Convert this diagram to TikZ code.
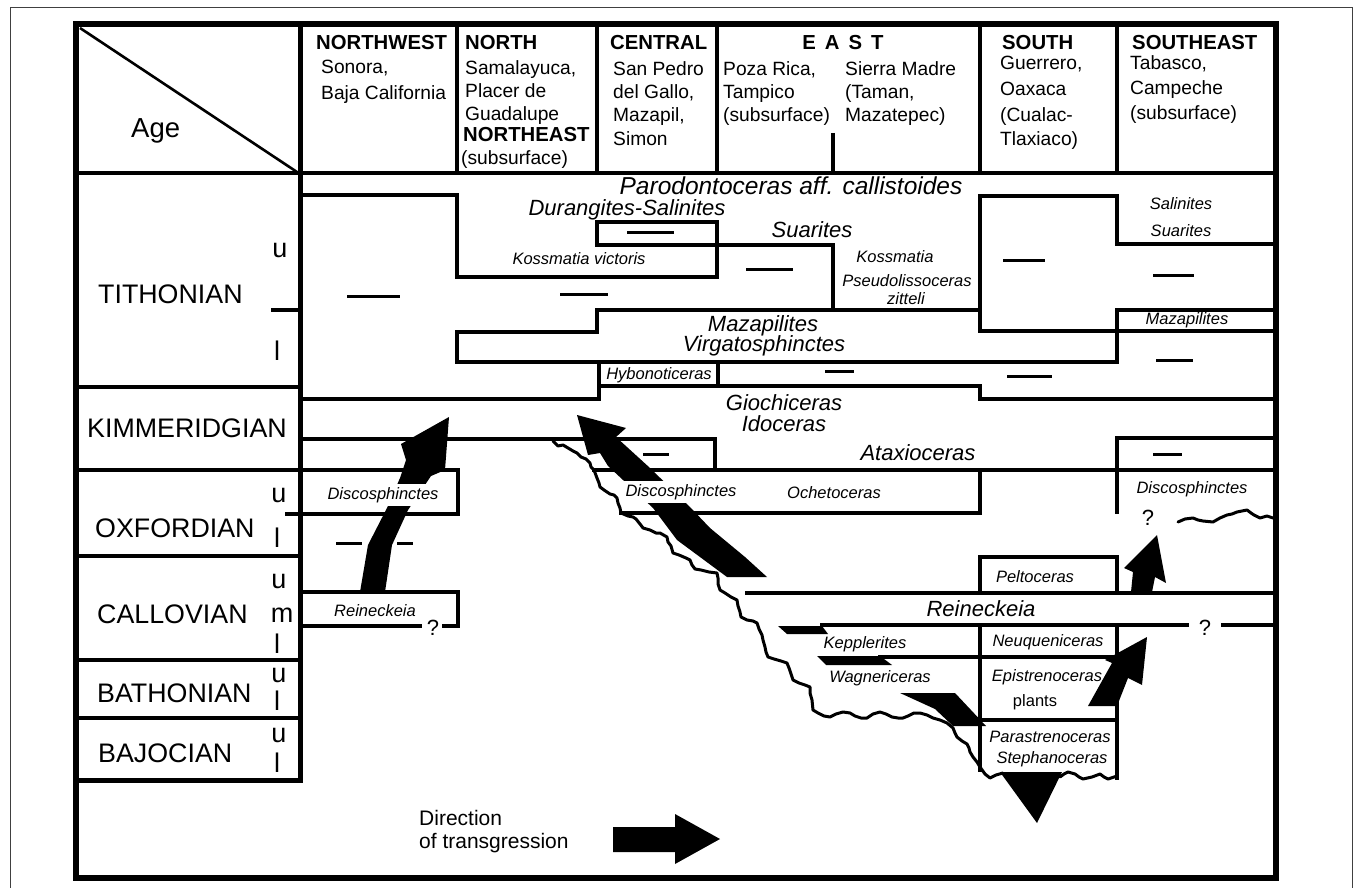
\documentclass[tikz,border=0pt]{standalone}
\usepackage{fontspec}
\setmainfont{Liberation Sans}
\newcommand{\fsz}[1]{\fontsize{#1}{#1}\selectfont}
\begin{document}
\begin{tikzpicture}[x=1pt,y=-1pt,
  frame/.style={line width=6pt},
  ln/.style={line width=3.4pt, line cap=rect, line join=miter},
  stg/.style={line width=3.2pt},
  dsh/.style={line width=3pt},
  wav/.style={line width=3pt, line join=round, line cap=round},
  blk/.style={fill=black, draw=none},
  hb/.style={font=\fsz{20.3}\bfseries, anchor=base west, inner sep=0pt},
  hr/.style={font=\fsz{19.2}, anchor=base west, inner sep=0pt},
  stage/.style={font=\fsz{26.8}, anchor=base west, inner sep=0pt},
  sub/.style={font=\fsz{27}, anchor=base, inner sep=0pt},
  bi/.style={font=\fsz{22}\itshape, inner sep=0pt},
  si/.style={font=\fsz{16.5}\itshape, inner sep=1pt},
  qm/.style={font=\fsz{22}, inner sep=0pt},
  wb/.style={fill=white, inner sep=3pt}]
\useasboundingbox (0,0) rectangle (1353,888);
\fill[white] (0,0) rectangle (1353,888);
% outer thin frame
\draw[line width=1pt, black!75] (10,892) -- (10,8) -- (1352.3,8) -- (1352.3,892);

% ---------- header ----------
\draw[line width=2.6pt] (80,28) -- (297,172);
\foreach \x in {457,597,717,980,1117} \draw[line width=3.4pt] (\x,24) -- (\x,173);
\draw[line width=3.4pt] (833,133) -- (833,173);
\draw[line width=4.6pt] (76,173) -- (1276,173);

\node[font=\fsz{27.5}, anchor=base west, inner sep=0pt] (age) at (131,138) {Age};

\node[hb] (hnw) at (316,50) {NORTHWEST};
\node[hr] (nw1) at (321,74) {Sonora,};
\node[hr] (nw2) at (321,100) {Baja California};

\node[hb] (hn) at (465,50) {NORTH};
\node[hr] (n1) at (465,75) {Samalayuca,};
\node[hr] (n2) at (465,98) {Placer de};
\node[hr] (n3) at (465,121) {Guadalupe};
\node[hb] (hne) at (463,142) {NORTHEAST};
\node[hr] (n4) at (461,165) {(subsurface)};

\node[hb] (hc) at (610,50) {CENTRAL};
\node[hr] (c1) at (613,76) {San Pedro};
\node[hr] (c2) at (613,99) {del Gallo,};
\node[hr] (c3) at (613,122) {Mazapil,};
\node[hr] (c4) at (613,146) {Simon};

\node[font=\fsz{20.3}\bfseries, anchor=base, inner sep=0pt] (he) at (843,50) {E\hspace{9pt}A\hspace{9pt}S\hspace{9pt}T};
\node[hr] (e1) at (723,76) {Poza Rica,};
\node[hr] (e2) at (723,99) {Tampico};
\node[hr] (e3) at (723,122) {(subsurface)};
\node[hr] (e4) at (845,76) {Sierra Madre};
\node[hr] (e5) at (845,99) {(Taman,};
\node[hr] (e6) at (845,122) {Mazatepec)};

\node[hb] (hs) at (1002,50) {SOUTH};
\node[hr] (s1) at (1000,70) {Guerrero,};
\node[hr] (s2) at (1000,96) {Oaxaca};
\node[hr] (s3) at (1000,122) {(Cualac-};
\node[hr] (s4) at (1000,146) {Tlaxiaco)};

\node[hb] (hse) at (1132,50) {SOUTHEAST};
\node[hr] (se1) at (1130,70) {Tabasco,};
\node[hr] (se2) at (1130,95) {Campeche};
\node[hr] (se3) at (1130,120) {(subsurface)};

% ---------- age column ----------
\draw[line width=5pt] (300,24) -- (300,780);
\draw[line width=5pt] (76,780) -- (302.5,780);
\foreach \y in {387,470,556,660,718} \draw[stg] (76,\y) -- (300,\y);
\draw[stg] (271,310) -- (300,310);

\node[stage] (tith) at (98,303) {TITHONIAN};
\node[stage] (kimm) at (87,437) {KIMMERIDGIAN};
\node[stage] (oxf) at (95,537) {OXFORDIAN};
\node[stage] (call) at (97,623) {CALLOVIAN};
\node[stage] (bath) at (97,702) {BATHONIAN};
\node[stage] (bajo) at (98,762) {BAJOCIAN};

\node[sub] (tu) at (280,257) {u};
\node[sub] (tl) at (277,360) {l};
\node[sub] (ou) at (279,502) {u};
\node[sub] (ol) at (277,547) {l};
\node[sub] (cu) at (279,588) {u};
\node[sub] (cm) at (282,622) {m};
\node[sub] (cl) at (277,653) {l};
\node[sub] (bu) at (279,682) {u};
\node[sub] (bl) at (277,710) {l};
\node[sub] (ju) at (279,742) {u};
\node[sub] (jl) at (277,772) {l};

% ---------- chart boundaries ----------
\draw[ln] (300,195) -- (457,195) -- (457,277) -- (717,277);
\draw[ln] (597,245) -- (597,222) -- (717,222) -- (717,277);
\draw[ln] (597,245) -- (833,245) -- (833,310);
\draw[ln] (457,362) -- (457,332) -- (597,332) -- (597,310) -- (980,310);
\draw[ln] (980,331) -- (980,196) -- (1117,196) -- (1117,244) -- (1273,244);
\draw[ln] (980,331) -- (1273,331);
\draw[ln] (1117,310) -- (1273,310);
\draw[ln] (1117,310) -- (1117,362);
\draw[ln] (457,362) -- (1117,362);
\draw[ln] (599,362) -- (599,399);
\draw[ln] (300,399) -- (599,399);
\draw[ln] (718,362) -- (718,386);
\draw[ln] (599,386) -- (980,386) -- (980,399) -- (1273,399);
% Kimmeridgian
\draw[ln] (300,439) -- (715,439) -- (715,470);
\draw[ln] (594,470) -- (1273,470);
\draw[ln] (1117,438) -- (1273,438);
\draw[ln] (1117,438) -- (1117,512);
% Oxfordian
\draw[ln] (300,470) -- (458,470) -- (458,514) -- (287,514);
\draw[ln] (980,470) -- (980,513) -- (621,513);
% Callovian
\draw[ln] (300,592) -- (458,592) -- (458,626) -- (444,626);
\draw[ln] (300,626) -- (420,626);
\draw[ln] (980,593) -- (980,557) -- (1117,557) -- (1117,593);
\draw[ln] (747,593) -- (1273,593);
\draw[ln] (822,625) -- (1187,625);
\draw[ln] (1223,625) -- (1273,625);
\draw[ln] (980,625) -- (980,770);
\draw[ln] (1117,625) -- (1117,778);
\draw[ln] (880,657) -- (1117,657);
\draw[ln] (980,720) -- (1117,720);

% dashes
\draw[dsh] (347,296) -- (400,296);
\draw[dsh] (560,294) -- (608,294);
\draw[dsh] (627,232) -- (674,232);
\draw[dsh] (746,269) -- (793,269);
\draw[dsh] (825,371) -- (854,371);
\draw[dsh] (1003,260) -- (1045,260);
\draw[dsh] (1153,275) -- (1194,275);
\draw[dsh] (1156,360) -- (1193,360);
\draw[dsh] (1007,376) -- (1052,376);
\draw[dsh] (1153,454) -- (1182,454);
\draw[dsh] (643,454) -- (669,454);
\draw[dsh] (336,543) -- (362,543);
\draw[dsh] (397,543) -- (413,543);

% wavy unconformity
\draw[wav] (553,441) -- (558,446) -- (563,445) -- (568,448) -- (573,451) -- (577,453) -- (581,457) -- (586,459) -- (590,463) -- (591,467) -- (594,470) -- (597,478) -- (599,483) -- (600,487) -- (604,490) -- (610,494) -- (614,495) -- (617,498) -- (618,503) -- (620,508) -- (621,513) -- (628,516) -- (633,517) -- (636,519) -- (640,524) -- (643,528) -- (650,530) -- (656,533) -- (660,533) -- (667,537) -- (668,542) -- (671,546) -- (673,553) -- (679,555) -- (686,558) -- (690,560) -- (692,565) -- (695,569) -- (701,570) -- (709,572) -- (717,573) -- (718,578) -- (718,584) -- (720,590) -- (725,593) -- (731,597) -- (737,600) -- (738,606) -- (740,612) -- (741,617) -- (747,620) -- (753,621) -- (757,623) -- (759,629) -- (762,635) -- (763,640) -- (765,647) -- (766,652) -- (768,657) -- (774,659) -- (781,661) -- (787,663) -- (789,668) -- (791,674) -- (793,680) -- (799,683) -- (805,685) -- (810,687) -- (810,693) -- (812,700) -- (813,710) -- (818,713) -- (824,716) -- (830,717) -- (836,714) -- (843,712) -- (850,713) -- (855,716) -- (861,718) -- (867,718) -- (873,714) -- (880,712) -- (886,714) -- (892,717) -- (898,718) -- (903,718) -- (908,716) -- (914,713) -- (920,713) -- (927,715) -- (933,718) -- (940,720) -- (947,723) -- (953,728) -- (955,733) -- (957,737) -- (962,741) -- (967,744) -- (969,748) -- (970,752) -- (973,757) -- (977,762) -- (980,767) -- (985,774) -- (990,778) -- (996,775) -- (1003,773);
\draw[wav] (1060,777) -- (1064,774) -- (1068,772) -- (1075,774) -- (1079,777) -- (1083,779) -- (1092,777) -- (1100,774) -- (1104,777) -- (1108,779) -- (1117,776);
\draw[wav] (1178,522) -- (1185,519) -- (1193,518) -- (1198,520) -- (1203,521) -- (1213,522) -- (1220,518) -- (1227,515) -- (1232,514) -- (1237,512) -- (1247,510) -- (1251,513) -- (1254,515) -- (1260,518) -- (1267,516) -- (1273,518);

% ---------- black arrows ----------
% NW arrow
\fill[blk] (449,417) -- (445,470) -- (431,476) -- (408,510) -- (392,545) -- (385,592) -- (360,592) -- (368,545) -- (387,508) -- (400,478) -- (406,460) -- (401,444) -- cycle;
% central arrow
\fill[blk] (577,415) -- (626,428) -- (616,437) -- (650,468) -- (690,507) -- (710,528) -- (745,557) -- (767,577) -- (727,577) -- (677,540) -- (653,508) -- (608,466) -- (600,453) -- (588,455) -- cycle;
% small parallelograms
\fill[blk] (778,626) -- (822,626) -- (828,634) -- (787,634) -- cycle;
\fill[blk] (817,656) -- (880,656) -- (892,665) -- (826,665) -- cycle;
\fill[blk] (900,693) -- (955,693) -- (986,726) -- (953,726) -- (935,709) -- cycle;
% bottom triangle
\fill[blk] (1000,772) -- (1062,772) -- (1037,823) -- cycle;
% SE arrows
\fill[blk] (1147,637) -- (1142,685) -- (1128,678) -- (1117,706) -- (1088,706) -- (1112,663) -- (1105,660) -- cycle;
\fill[blk] (1157,535) -- (1166,583) -- (1155,577) -- (1152,592) -- (1131,592) -- (1133,572) -- (1124,568) -- cycle;
% legend arrow
\fill[blk] (613,827) -- (675,827) -- (675,814) -- (720,839) -- (675,864) -- (675,852) -- (613,852) -- cycle;

% ---------- labels ----------
\node[font=\fsz{24.5}\itshape, inner sep=0pt] (parod) at (791,186) {Parodontoceras aff. callistoides};
\node[bi] (dura) at (627,210) {Durangites-Salinites};
\node[bi] (suar) at (812,230) {Suarites};
\node[bi] (maza) at (763,326) {Mazapilites};
\node[bi] (virg) at (764,346) {Virgatosphinctes};
\node[bi] (gioc) at (784,403) {Giochiceras};
\node[bi] (idoc) at (784,424) {Idoceras};
\node[bi] (atax) at (918,453) {Ataxioceras};
\node[bi] (rein) at (981,609) {Reineckeia};

\node[si] (kosv) at (579,259) {Kossmatia victoris};
\node[si] (koss) at (895,257) {Kossmatia};
\node[si] (pseu) at (907,281) {Pseudolissoceras};
\node[si] (zitt) at (906,299) {zitteli};
\node[si] (hybo) at (659,375) {Hybonoticeras};
\node[si] (sali) at (1181,204) {Salinites};
\node[si] (suse) at (1181,231) {Suarites};
\node[si] (mase) at (1187,320) {Mazapilites};
\node[si, wb] (disnw) at (383,495) {Discosphinctes};
\node[si] (reinw) at (375,611) {Reineckeia};
\node[si, wb] (disc) at (681,492) {Discosphinctes};
\node[si] (oche) at (834,493) {Ochetoceras};
\node[si] (disse) at (1192,489) {Discosphinctes};
\node[si] (pelt) at (1035,577) {Peltoceras};
\node[si] (kepp) at (865,644) {Kepplerites};
\node[si] (wagn) at (880,678) {Wagnericeras};
\node[si] (neuq) at (1048,642) {Neuqueniceras};
\node[si] (epis) at (1047,677) {Epistrenoceras};
\node[font=\fsz{16.5}, inner sep=1pt] (plan) at (1035,702) {plants};
\node[si] (para) at (1050,737) {Parastrenoceras};
\node[si] (steph) at (1052,759) {Stephanoceras};

\node[qm] (q1) at (433,628) {?};
\node[qm] (q2) at (1205,628) {?};
\node[qm] (q3) at (1148,518) {?};

\node[font=\fsz{21}, anchor=base west, inner sep=0pt] (dir1) at (419,825) {Direction};
\node[font=\fsz{21}, anchor=base west, inner sep=0pt] (dir2) at (419,848) {of transgression};

% main frame
\draw[frame] (76,24) rectangle (1276,878);
\end{tikzpicture}
\end{document}
